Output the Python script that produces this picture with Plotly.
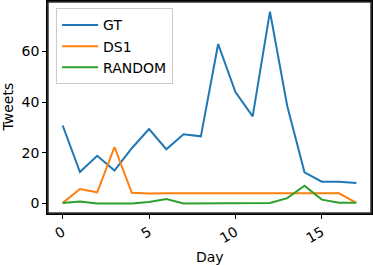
import plotly.graph_objects as go

days = list(range(18))
gt = [30.8, 12.4, 18.8, 13.0, 21.8, 29.4, 21.4, 27.3, 26.5, 63.0, 44.0, 34.4, 75.8, 38.5, 12.3, 8.6, 8.6, 8.1]
ds1 = [0.2, 5.7, 4.4, 22.3, 4.2, 3.9, 4.0, 4.0, 4.0, 4.0, 4.0, 4.0, 4.0, 4.0, 4.2, 4.1, 4.0, 0.2]
rnd = [0.2, 0.8, 0.0, 0.0, 0.0, 0.6, 1.7, 0.0, 0.0, 0.0, 0.0, 0.2, 0.2, 2.1, 7.0, 1.5, 0.3, 0.3]

series = [("GT", gt, "#1f77b4"), ("DS1", ds1, "#ff7f0e"), ("RANDOM", rnd, "#2ca02c")]

xticks = [0, 5, 10, 15]
yticks = [0, 20, 40, 60]

fig = go.Figure()
for name, vals, color in series:
    fig.add_trace(go.Scatter(x=days, y=vals, mode="lines", name=name,
                             line=dict(color=color, width=2)))

font = dict(family="DejaVu Sans", size=14, color="black")
axis_common = dict(showline=True, linecolor="black", linewidth=1.5, mirror=True,
                   ticks="outside", ticklen=4, tickcolor="black", tickwidth=1.2,
                   showgrid=False, zeroline=False, tickfont=font, automargin=False)

L, R, T, B = 48, 2, 2, 52
pw = 373 - L - R
ph = 265 - T - B

fig.update_layout(
    template="none",
    width=373, height=265,
    margin=dict(l=L, r=R, t=T, b=B, pad=0),
    plot_bgcolor="white", paper_bgcolor="white",
    font=font,
    xaxis=dict(range=[-0.85, 17.85], tickvals=xticks, tickangle=-30, **axis_common),
    yaxis=dict(range=[-3.79, 79.6], tickvals=yticks, **axis_common),
    legend=dict(x=0.025, y=0.97, xanchor="left", yanchor="top",
                bgcolor="white", bordercolor="#cccccc", borderwidth=1,
                font=font, itemwidth=36),
    showlegend=True,
    shapes=[dict(type="rect", xref="paper", yref="paper", x0=0, x1=1, y0=0, y1=1,
                 line=dict(color="#333333", width=1.5), layer="above")],
    annotations=[
        dict(text="Day", x=0.5, xref="paper", y=-(257 - (T + ph)) / ph, yref="paper",
             yanchor="middle", xanchor="center", showarrow=False, font=font),
        dict(text="Tweets", x=-(L - 7) / pw, xref="paper", y=0.5, yref="paper",
             textangle=-90, xanchor="center", yanchor="middle", showarrow=False, font=font),
    ],
)
fig.write_html("out.html", config={"displayModeBar": False},
               post_script="document.body.style.margin='0';document.body.style.padding='0';document.body.style.overflow='hidden';")
